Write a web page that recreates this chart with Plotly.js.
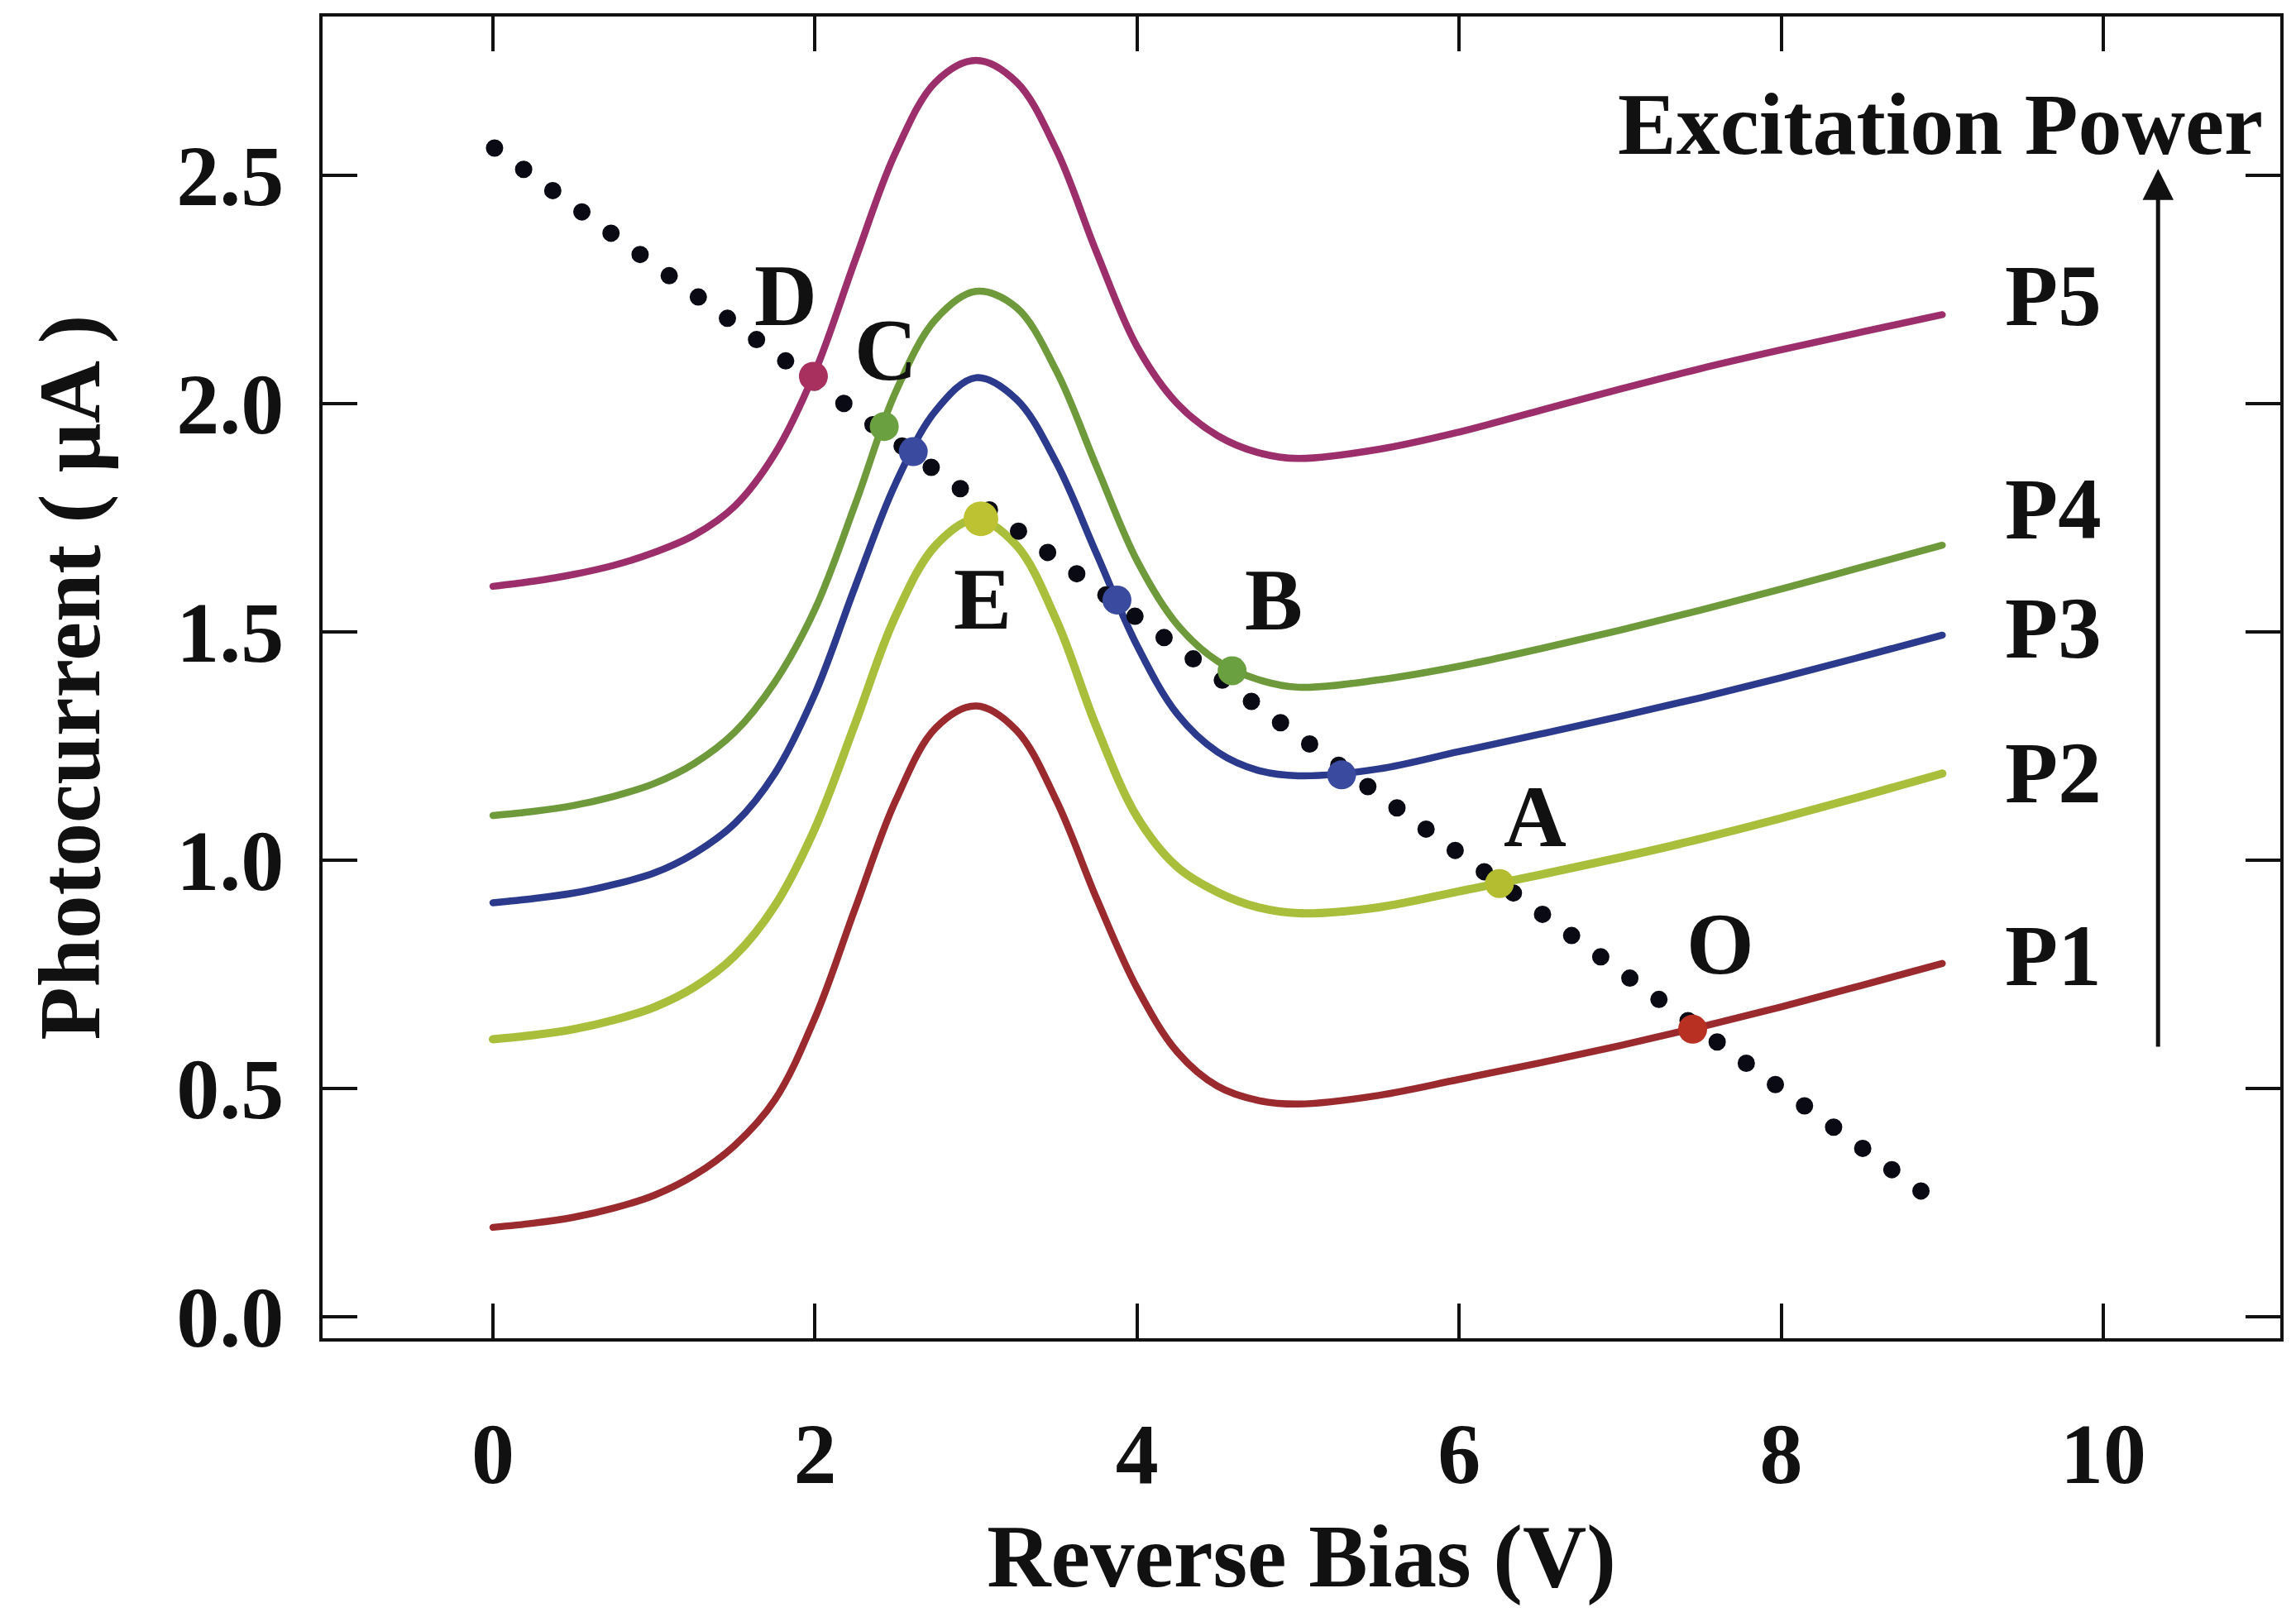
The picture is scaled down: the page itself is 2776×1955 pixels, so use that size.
<!DOCTYPE html>
<html>
<head>
<meta charset="utf-8">
<script src="https://cdn.plot.ly/plotly-3.0.1.min.js"></script>
<style>
  html, body { margin: 0; padding: 0; background: #ffffff; }
  #chart { width: 2776px; height: 1955px; }
  .scatterlayer path.js-line { stroke-linecap: round; }
</style>
</head>
<body>
<div id="chart"></div>
<script>
// Reverse bias (V) sample points
const bias = [0, 0.25, 0.5, 0.75, 1.0, 1.25, 1.5, 1.75, 2.0, 2.25, 2.5, 2.75, 3.0, 3.25, 3.5, 3.75, 4.0, 4.25, 4.5, 4.75, 5.0, 5.5, 6.0, 6.5, 7.0, 7.5, 8.0, 8.5, 9.0];

// Photocurrent (µA) for each excitation power
const P1 = [0.196, 0.205, 0.218, 0.238, 0.266, 0.310, 0.375, 0.475, 0.655, 0.895, 1.130, 1.290, 1.338, 1.285, 1.130, 0.915, 0.720, 0.580, 0.505, 0.474, 0.466, 0.485, 0.520, 0.556, 0.594, 0.635, 0.679, 0.726, 0.774];
const P2 = [0.608, 0.617, 0.630, 0.650, 0.678, 0.722, 0.790, 0.900, 1.070, 1.300, 1.535, 1.690, 1.747, 1.690, 1.525, 1.290, 1.095, 0.985, 0.930, 0.897, 0.884, 0.897, 0.932, 0.968, 1.006, 1.047, 1.092, 1.140, 1.190];
const P3 = [0.907, 0.916, 0.928, 0.947, 0.972, 1.015, 1.080, 1.190, 1.365, 1.600, 1.825, 1.985, 2.057, 2.010, 1.870, 1.670, 1.470, 1.320, 1.237, 1.197, 1.185, 1.200, 1.238, 1.276, 1.315, 1.356, 1.400, 1.446, 1.493];
const P4 = [1.098, 1.107, 1.120, 1.140, 1.168, 1.212, 1.280, 1.390, 1.550, 1.780, 2.025, 2.185, 2.246, 2.211, 2.071, 1.861, 1.656, 1.516, 1.436, 1.396, 1.379, 1.395, 1.425, 1.463, 1.504, 1.548, 1.594, 1.642, 1.690];
const P5 = [1.600, 1.611, 1.626, 1.646, 1.674, 1.712, 1.775, 1.890, 2.070, 2.315, 2.550, 2.705, 2.752, 2.705, 2.555, 2.330, 2.125, 2.000, 1.930, 1.893, 1.880, 1.900, 1.938, 1.985, 2.032, 2.077, 2.118, 2.157, 2.195];

const seriesNames = ['P1', 'P2', 'P3', 'P4', 'P5'];
const seriesColors = ['#9b2a2e', '#a9bf3c', '#2b3a8c', '#6e9a3c', '#9c2f6b'];

// Dotted guide line
const guideX = [0.01, 8.87];
const guideY = [2.56, 0.275];

// Highlighted operating points
const pointLabels = ['D', 'C', '', 'E', '', 'B', '', 'A', 'O'];
const pointX = [1.99, 2.43, 2.61, 3.03, 3.875, 4.59, 5.27, 6.25, 7.45];
const pointY = [2.06, 1.95, 1.895, 1.748, 1.57, 1.415, 1.187, 0.949, 0.63];
const pointColors = ['#a8305f', '#6aa040', '#3a4a9e', '#bcc232', '#3a4a9e', '#6aa040', '#3a4a9e', '#b4bc30', '#b83022'];

const curveData = [P1, P2, P3, P4, P5];
const traces = curveData.map((vals, i) => ({
  type: 'scatter', mode: 'lines', name: seriesNames[i],
  x: bias, y: vals,
  line: {color: seriesColors[i], width: i === 1 ? 10 : 8.5, shape: 'spline', smoothing: 1},
  hoverinfo: 'skip', showlegend: false
}));

traces.push({
  type: 'scatter', mode: 'lines', x: guideX, y: guideY,
  line: {color: '#0a0a14', width: 21, dash: '0px,43.6px'},
  hoverinfo: 'skip', showlegend: false
});

traces.push({
  type: 'scatter', mode: 'markers', x: pointX, y: pointY,
  marker: {color: pointColors, opacity: 1, size: pointLabels.map(l => l === 'E' ? 42 : 35), line: {width: 0}},
  hoverinfo: 'skip', showlegend: false
});

const labelFont = {family: 'Liberation Serif', size: 105, weight: 'bold', color: '#111111'};
const annotations = [];
const letterPos = {D: [1.82, 2.237], C: [2.44, 2.117], E: [3.04, 1.571], B: [4.85, 1.569], A: [6.47, 1.095], O: [7.62, 0.816]};
pointLabels.forEach(l => {
  if (!l) return;
  annotations.push({x: letterPos[l][0], y: letterPos[l][1], xref: 'x', yref: 'y', text: l, showarrow: false,
    font: labelFont, xanchor: 'center', yanchor: 'middle'});
});
const pLabelY = [0.79, 1.192, 1.509, 1.769, 2.237];
seriesNames.forEach((n, i) => {
  annotations.push({x: 9.69, y: pLabelY[i], xref: 'x', yref: 'y', text: n, showarrow: false,
    font: labelFont, xanchor: 'center', yanchor: 'middle'});
});
annotations.push({x: 11.0, y: 2.612, xref: 'x', yref: 'y', text: 'Excitation Power', showarrow: false,
  font: {family: 'Liberation Serif', size: 106, weight: 'bold', color: '#111111'}, xanchor: 'right', yanchor: 'middle'});
annotations.push({x: 10.34, y: 2.514, ax: 10.34, ay: 0.589, xref: 'x', yref: 'y', axref: 'x', ayref: 'y',
  text: '', showarrow: true, arrowhead: 2, arrowsize: 1.5, arrowwidth: 5, arrowcolor: '#111111', standoff: 0});

const axisCommon = {
  showline: true, mirror: 'ticks', linecolor: '#111111', linewidth: 4,
  ticks: 'inside', ticklen: 42, tickwidth: 4, tickcolor: '#111111',
  showgrid: false, zeroline: false, automargin: false,
  tickfont: {family: 'Liberation Serif', size: 104, weight: 'bold', color: '#111111'}
};

const layout = {
  width: 2776, height: 1955,
  paper_bgcolor: '#ffffff', plot_bgcolor: '#ffffff',
  margin: {l: 390, r: 19, t: 20, b: 337},
  font: {family: 'Liberation Serif', size: 100, weight: 'bold', color: '#111111'},
  xaxis: Object.assign({}, axisCommon, {
    range: [-1.058, 11.099], tickmode: 'array', tickvals: [0, 2, 4, 6, 8, 10],
    ticklabelstandoff: 46,
    title: {text: 'Reverse Bias (V)', font: {family: 'Liberation Serif', size: 107, weight: 'bold', color: '#111111'}, standoff: 30}
  }),
  yaxis: Object.assign({}, axisCommon, {
    range: [-0.047, 2.848], tickmode: 'array', tickvals: [0, 0.5, 1.0, 1.5, 2.0, 2.5],
    tickformat: '.1f', ticklabelstandoff: 22,
    title: {text: 'Photocurrent ( μA )', font: {family: 'Liberation Serif', size: 105, weight: 'bold', color: '#111111'}, standoff: 58}
  }),
  annotations: annotations,
  showlegend: false
};

Plotly.newPlot('chart', traces, layout, {staticPlot: true, displayModeBar: false});
</script>
</body>
</html>
